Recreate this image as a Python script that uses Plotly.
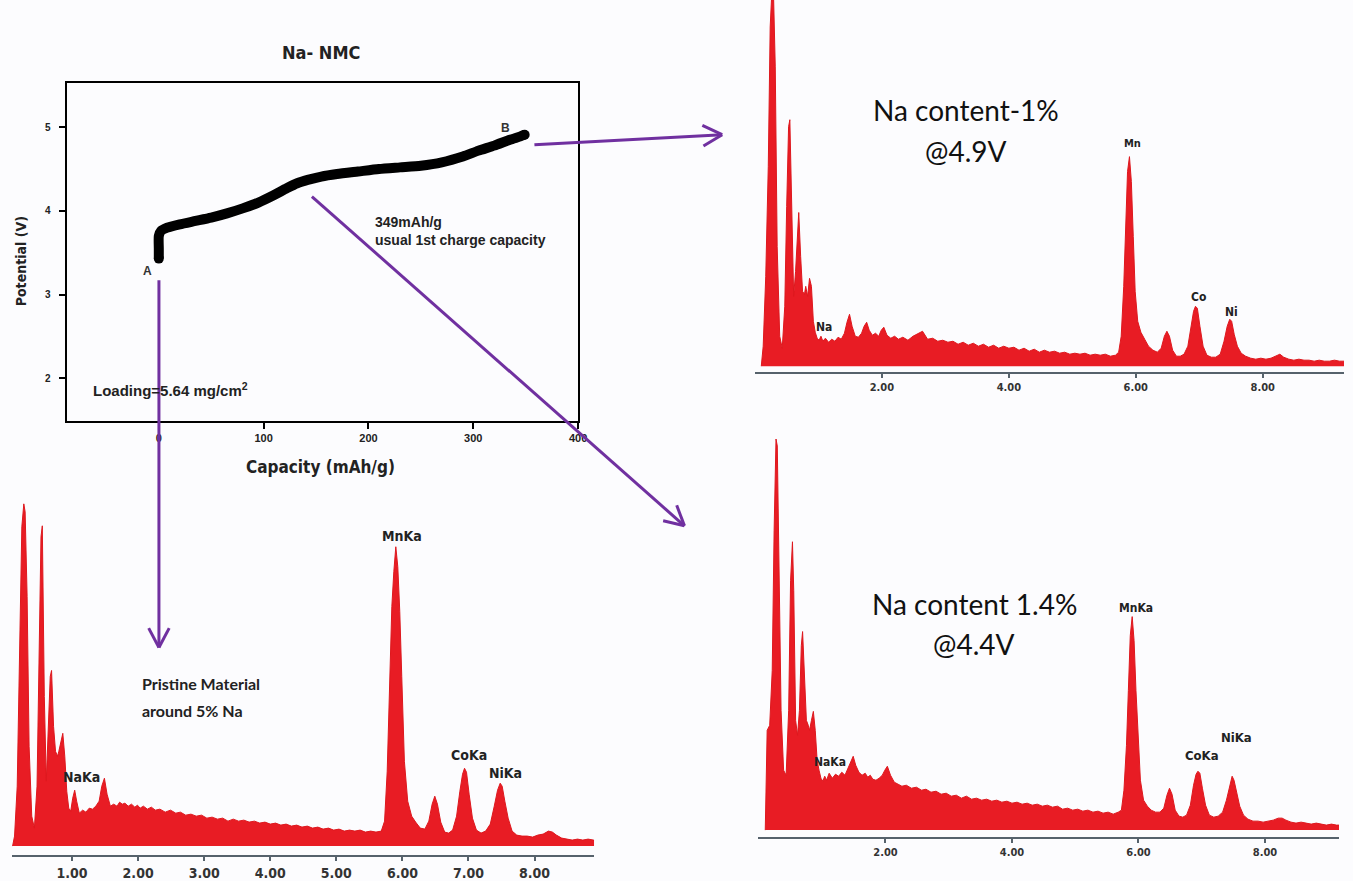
import math
import plotly.graph_objects as go

W, H = 1353, 881

# ---------------- charge curve (Na-NMC) ----------------
capacity_mAhg = [0, 0, 0, 2, 8, 20, 35, 50, 65, 80, 95, 110, 122, 132, 142, 155, 170, 190,
                 210, 230, 250, 270, 290, 305, 320, 335, 345, 349]
potential_V = [3.43, 3.55, 3.70, 3.76, 3.80, 3.84, 3.88, 3.92, 3.97, 4.03, 4.10, 4.19, 4.27,
               4.33, 4.37, 4.41, 4.44, 4.47, 4.50, 4.52, 4.54, 4.58, 4.65, 4.72, 4.78, 4.85,
               4.89, 4.91]
cap_ticks = [0, 100, 200, 300, 400]
pot_ticks = [2, 3, 4, 5]

# ---------------- EDS spectra (energy in keV, counts in arbitrary units) ----------------
energy_keV = [
    0.10, 0.13, 0.17, 0.21, 0.24, 0.27, 0.29, 0.32, 0.35, 0.39,
    0.43, 0.47, 0.50, 0.53, 0.55, 0.58, 0.61, 0.64, 0.67, 0.69,
    0.72, 0.75, 0.78, 0.80, 0.83, 0.86, 0.89, 0.92, 0.95, 0.98,
    1.01, 1.04, 1.07, 1.11, 1.16, 1.21, 1.26, 1.31, 1.36, 1.41,
    1.45, 1.49, 1.53, 1.58, 1.63, 1.68, 1.72, 1.76, 1.80, 1.85,
    1.90, 1.95, 1.99, 2.03, 2.08, 2.14, 2.20, 2.26,
    2.33, 2.41, 2.49, 2.57, 2.64, 2.72, 2.80, 2.88, 2.96, 3.04,
    3.12, 3.20, 3.28, 3.36, 3.44, 3.52, 3.60, 3.68, 3.76, 3.84,
    3.92, 4.00, 4.08, 4.16, 4.24, 4.32, 4.40, 4.48, 4.56, 4.64,
    4.72, 4.80, 4.88, 4.96, 5.04, 5.12, 5.20, 5.28, 5.36, 5.44,
    5.52, 5.60, 5.68,
    5.73, 5.77, 5.81, 5.84, 5.87, 5.90, 5.93, 5.96, 5.99, 6.03, 6.08, 6.14, 6.20, 6.27, 6.34,
    6.40, 6.45, 6.49, 6.53, 6.58, 6.64, 6.70, 6.76, 6.82, 6.87,
    6.91, 6.94, 6.97, 7.01, 7.06, 7.12, 7.19, 7.26, 7.33, 7.39,
    7.44, 7.48, 7.51, 7.55, 7.60, 7.66, 7.73,
    7.81, 7.89, 7.97, 8.05, 8.13, 8.21, 8.27, 8.33, 8.41, 8.49,
    8.57, 8.65, 8.73, 8.81, 8.89, 8.97, 9.05, 9.13, 9.21, 9.30,
]

counts_4p9V = [
    0, 20, 90, 200, 340, 380, 380, 300, 120, 30,
    18, 60, 160, 240, 247, 150, 70, 95, 140, 154,
    110, 75, 72, 80, 70, 88, 80, 45, 34, 28,
    26, 30, 25, 28, 24, 27, 25, 29, 27, 33,
    44, 52, 40, 30, 29, 33, 40, 44, 36, 31,
    33, 30, 36, 39, 31, 28, 30, 27,
    29, 26, 30, 33, 35, 27, 28, 25, 26, 24,
    25, 22, 24, 21, 23, 20, 22, 19, 21, 18,
    20, 18, 19, 16, 18, 15, 17, 14, 16, 14,
    15, 13, 14, 12, 13, 12, 13, 11, 12, 11,
    12, 10, 11,
    14, 30, 80, 140, 195, 210, 185, 130, 75, 45, 34, 27, 20, 16, 14,
    18, 30, 35, 30, 16, 10, 10, 12, 20, 40,
    55, 60, 58, 40, 20, 11, 9, 9, 12, 25,
    40, 47, 45, 32, 20, 13, 10,
    8, 7, 8, 7, 8, 10, 12, 9, 7, 6,
    7, 6, 6, 5, 6, 5, 5, 6, 5, 5,
]

counts_4p4V = [
    0, 100, 105, 160, 300, 392, 385, 250, 120, 60,
    55, 120, 250, 289, 240, 110, 95, 120, 185, 199,
    150, 110, 105, 100, 110, 119, 100, 70, 60, 52,
    49, 54, 50, 57, 52, 56, 54, 58, 55, 62,
    68, 74, 65, 58, 55, 57, 53, 55, 51, 50,
    52, 55, 60, 64, 55, 48, 46, 44,
    45, 42, 43, 40, 41, 38, 39, 36, 37, 34,
    35, 32, 34, 31, 32, 30, 31, 29, 30, 28,
    29, 27, 28, 26, 27, 25, 26, 24, 25, 23,
    24, 21, 22, 20, 21, 19, 20, 18, 19, 17,
    18, 16, 18,
    20, 40, 85, 140, 195, 214, 190, 140, 95, 50, 30, 24, 20, 18, 18,
    22, 35, 42, 36, 20, 14, 13, 15, 25, 45,
    56, 59, 57, 42, 25, 15, 13, 14, 18, 30,
    45, 54, 50, 38, 24, 15, 11,
    9, 9, 8, 9, 10, 12, 12, 10, 8, 7,
    8, 7, 6, 7, 6, 5, 6, 5, 5, 5,
]

counts_pristine = [
    0, 10, 60, 200, 320, 343, 335, 250, 100, 30,
    18, 60, 200, 310, 321, 150, 65, 110, 170, 176,
    120, 95, 90, 95, 105, 113, 90, 55, 38, 35,
    48, 56, 45, 33, 36, 34, 38, 37, 40, 45,
    60, 68, 52, 40, 42, 40, 44, 42, 43, 40,
    42, 39, 41, 38, 40, 37, 39, 36,
    37, 34, 36, 33, 34, 31, 32, 30, 31, 28,
    29, 27, 28, 25, 27, 25, 26, 24, 25, 23,
    24, 22, 23, 21, 22, 20, 21, 19, 20, 18,
    19, 17, 18, 16, 17, 15, 16, 15, 16, 14,
    15, 14, 15,
    25, 75, 160, 240, 275, 300, 280, 235, 170, 85, 45, 30, 24, 18, 17,
    25, 42, 50, 42, 24, 14, 13, 16, 30, 55,
    72, 78, 74, 52, 28, 16, 13, 15, 22, 40,
    56, 63, 60, 45, 28, 15, 11,
    10, 10, 9, 11, 12, 15, 14, 11, 8, 7,
    6, 7, 6, 7, 6, 6, 6, 6, 6, 6,
]

tick_vals_tr = [2, 4, 6, 8]
tick_vals_bl = [1, 2, 3, 4, 5, 6, 7, 8]

# ---------------- helpers ----------------
def fx(p):
    return p / W


def fy(p):
    return 1 - p / H


RED = "rgb(232,28,36)"
PURPLE = "rgb(112,48,160)"
BG = "#fcfcfe"
NARROW = "Liberation Sans Narrow, Arial Narrow, DejaVu Sans Condensed, Liberation Sans, sans-serif"
ARIAL = "Liberation Sans, Arial, sans-serif"

fig = go.Figure()

# charge curve
fig.add_trace(go.Scatter(
    x=capacity_mAhg, y=potential_V, mode="lines",
    line=dict(color="black", width=10, shape="spline", smoothing=0.6),
    xaxis="x", yaxis="y", showlegend=False, hoverinfo="skip"))
fig.add_trace(go.Scatter(
    x=[capacity_mAhg[0], capacity_mAhg[-1]], y=[potential_V[0], potential_V[-1]],
    mode="markers", marker=dict(color="black", size=10),
    xaxis="x", yaxis="y", showlegend=False, hoverinfo="skip"))

# spectra
for counts, xa, ya in [(counts_4p9V, "x2", "y2"), (counts_4p4V, "x3", "y3"),
                       (counts_pristine, "x4", "y4")]:
    fig.add_trace(go.Scatter(
        x=energy_keV, y=counts, mode="lines", fill="tozeroy",
        fillcolor=RED, line=dict(color="rgb(222,24,30)", width=1),
        xaxis=xa, yaxis=ya, showlegend=False, hoverinfo="skip"))

axis_line = "#56626c"
spec_x_common = dict(showline=True, linecolor=axis_line, linewidth=2, ticks="outside",
                     ticklen=4, tickcolor=axis_line, tickwidth=1.5, showgrid=False,
                     zeroline=False)

fig.update_layout(
    width=W, height=H, margin=dict(l=0, r=0, t=0, b=0),
    paper_bgcolor=BG, plot_bgcolor="rgba(0,0,0,0)", showlegend=False,
    xaxis=dict(domain=[fx(67), fx(582)], range=[-88, 400], anchor="y",
               showline=True, mirror=True, linecolor="black", linewidth=2,
               ticks="outside", ticklen=6, tickcolor="black", tickwidth=1.5,
               tickvals=cap_ticks, showgrid=False, zeroline=False,
               tickfont=dict(family=ARIAL, size=11, color="#222", weight="bold")),
    yaxis=dict(domain=[fy(422), fy(83)], range=[1.49, 5.53], anchor="x",
               showline=True, mirror=True, linecolor="black", linewidth=2,
               ticks="outside", ticklen=6, tickcolor="black", tickwidth=1.5,
               tickvals=pot_ticks, showgrid=False, zeroline=False, ticklabelstandoff=6,
               tickfont=dict(family=ARIAL, size=10, color="#222", weight="bold")),
    xaxis2=dict(domain=[fx(760), 1.0], range=[0, 9.28], anchor="y2",
                tickvals=tick_vals_tr, ticktext=[f"{v:.2f}" for v in tick_vals_tr],
                tickfont=dict(family=NARROW, size=11, color="#333", weight="bold"),
                **spec_x_common),
    yaxis2=dict(domain=[fy(373), 1.0], range=[-6, 367], anchor="x2", visible=False),
    xaxis3=dict(domain=[fx(763), fx(1348)], range=[-0.016, 9.17], anchor="y3",
                tickvals=tick_vals_tr, ticktext=[f"{v:.2f}" for v in tick_vals_tr],
                tickfont=dict(family=NARROW, size=11, color="#333", weight="bold"),
                **spec_x_common),
    yaxis3=dict(domain=[fy(839), fy(430)], range=[-7, 402], anchor="x3", visible=False),
    xaxis4=dict(domain=[fx(12), fx(598)], range=[0.09, 8.90], anchor="y4",
                tickvals=tick_vals_bl, ticktext=[f"{v:.2f}" for v in tick_vals_bl],
                tickfont=dict(family=NARROW, size=14, color="#333", weight="bold"),
                **spec_x_common),
    yaxis4=dict(domain=[fy(857), fy(500)], range=[-9, 348], anchor="x4", visible=False),
)

annotations = []


def txt(text, x, y, size, family=ARIAL, bold=True, xanchor="center", color="#222",
        angle=0, align="center"):
    annotations.append(dict(
        text=text, x=fx(x), y=fy(y), xref="paper", yref="paper", showarrow=False,
        xanchor=xanchor, yanchor="middle", textangle=angle, align=align,
        font=dict(family=family, size=size, color=color,
                  weight="bold" if bold else "normal")))


# top-left chart texts
txt("Na- NMC", 323, 53, 18, family=NARROW)
txt("Potential (V)", 22, 262, 14, family=NARROW, angle=-90)
txt("Capacity (mAh/g)", 323, 468, 17, family=NARROW)
txt("A", 148, 272, 12, color="#333")
txt("B", 509, 128, 12, color="#333")
txt("349mAh/g", 375, 223, 14, xanchor="left", align="left")
txt("usual 1st charge capacity", 375, 241, 14, xanchor="left", align="left")
txt("Loading=5.64 mg/cm<sup>2</sup>", 92, 390, 15, xanchor="left", align="left")

# top-right spectrum texts
txt("Na content-1%", 972, 110, 28, family="Lato", bold=False, color="#111")
txt("@4.9V", 972, 151, 28, family="Lato", bold=False, color="#111")
txt("Mn", 1140, 144, 11, family=NARROW)
txt("Co", 1207, 298, 12, family=NARROW)
txt("Ni", 1240, 313, 12, family=NARROW)
txt("Na", 830, 328, 12, family=NARROW)

# bottom-right spectrum texts
txt("Na content 1.4%", 981, 605, 28, family="Lato", bold=False, color="#111")
txt("@4.4V", 981, 645, 28, family="Lato", bold=False, color="#111")
txt("MnKa", 1144, 609, 12, family=NARROW)
txt("NaKa", 836, 764, 12, family=NARROW)
txt("CoKa", 1210, 757, 13, family=NARROW)
txt("NiKa", 1245, 739, 13, family=NARROW)

# bottom-left spectrum texts
txt("Pristine Material", 141, 685, 16, family="Lato", xanchor="left", color="#222")
txt("around 5% Na", 141, 712, 16, family="Lato", xanchor="left", color="#222")
txt("MnKa", 405, 537, 14, family=NARROW)
txt("CoKa", 472, 757, 14, family=NARROW)
txt("NiKa", 509, 775, 14, family=NARROW)
txt("NaKa", 82, 779, 14, family=NARROW)

shapes = []


def seg(x0, y0, x1, y1):
    shapes.append(dict(type="line", xref="paper", yref="paper",
                       x0=fx(x0), y0=fy(y0), x1=fx(x1), y1=fy(y1),
                       line=dict(color=PURPLE, width=3)))


def arrow(x0, y0, x1, y1, head=22, half_angle=28):
    seg(x0, y0, x1, y1)
    dx, dy = x1 - x0, y1 - y0
    n = math.hypot(dx, dy)
    ux, uy = dx / n, dy / n
    for s in (1, -1):
        a = math.radians(half_angle) * s
        rx = ux * math.cos(a) - uy * math.sin(a)
        ry = ux * math.sin(a) + uy * math.cos(a)
        seg(x1, y1, x1 - head * rx, y1 - head * ry)


arrow(538, 145, 727, 135)
arrow(314, 197, 689, 527)
arrow(160, 281, 160, 649)

fig.update_layout(annotations=annotations, shapes=shapes)
fig.write_html("out.html")
